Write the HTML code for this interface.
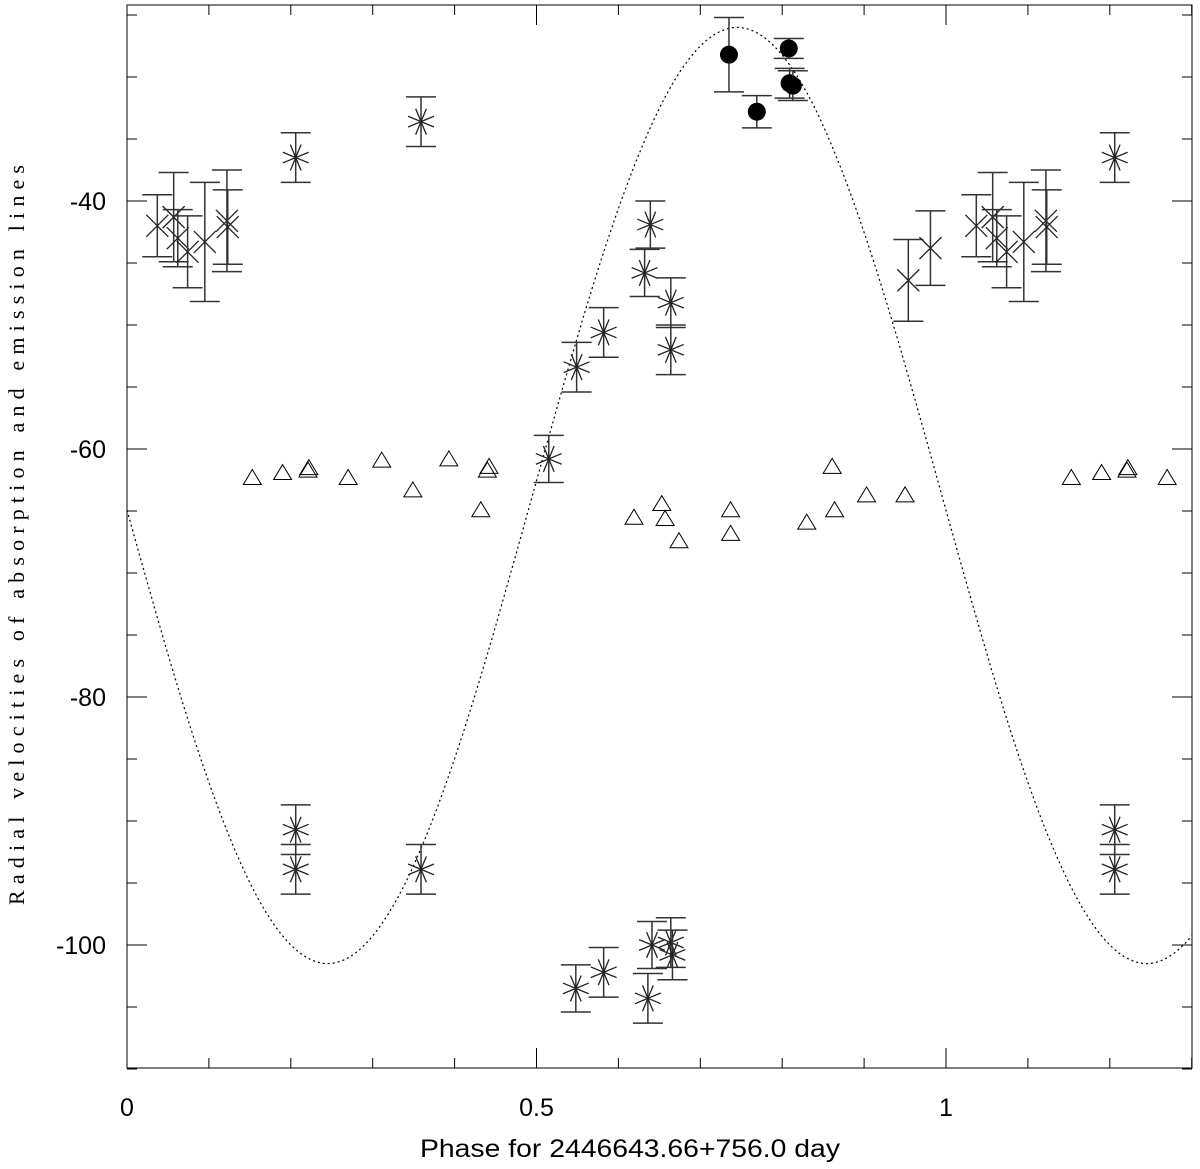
<!DOCTYPE html>
<html><head><meta charset="utf-8"><style>
html,body{margin:0;padding:0;background:#fff;width:1200px;height:1169px;overflow:hidden}
svg text{font-family:"Liberation Sans",sans-serif}
</style></head><body>
<svg id="chart" width="1200" height="1169" xmlns="http://www.w3.org/2000/svg">
<rect x="127" y="5" width="1065" height="1063" fill="none" stroke="#000" stroke-width="1"/>
<g id="ticks"></g>
<g id="curve"></g>
<g id="marks"></g>
<text x="630" y="1157" font-size="25" text-anchor="middle" textLength="420" lengthAdjust="spacingAndGlyphs">Phase for 2446643.66+756.0 day</text>
<text transform="translate(24,535) rotate(-90)" font-size="22" text-anchor="middle" textLength="740" lengthAdjust="spacing" style="font-family:'Liberation Serif',serif">Radial velocities of absorption and emission lines</text>
</svg>
<script>
const xTicks=[0,0.5,1];
const xTickLabels=["0","0.5","1"];
const yTicks=[-40,-60,-80,-100];
const yTickLabels=["-40","-60","-80","-100"];
// filled circles: phase, velocity, error
const circX=[0.735,0.769,0.808,0.809,0.813];
const circY=[-28.2,-32.8,-27.7,-30.5,-30.7];
const circE=[3.0,1.3,0.8,1.2,1.2];
// asterisks
const starX=[0.206,0.359,0.549,0.582,0.639,0.632,0.664,0.664,0.515,0.206,0.206,0.359,0.548,0.582,0.636,0.641,0.664,0.666,1.206,1.206,1.206];
const starY=[-36.5,-33.6,-53.4,-50.6,-41.9,-45.8,-48.2,-52.0,-60.8,-90.7,-93.9,-93.9,-103.5,-102.2,-104.3,-100.0,-99.8,-100.8,-36.5,-90.7,-93.9];
const starE=[2.0,2.0,2.0,2.0,1.9,1.9,2.0,2.0,1.9,2.0,2.0,2.0,1.9,2.0,2.0,1.9,2.0,2.0,2.0,2.0,2.0];
// crosses
const crossX=[0.037,0.057,0.062,0.074,0.095,0.122,0.123,0.954,0.981,1.037,1.057,1.062,1.074,1.095,1.122,1.123];
const crossY=[-42.0,-41.3,-43.0,-44.1,-43.3,-41.6,-42.1,-46.4,-43.8,-42.0,-41.3,-43.0,-44.1,-43.3,-41.6,-42.1];
const crossE=[2.5,3.6,2.3,2.9,4.8,4.1,3.0,3.3,3.0,2.5,3.6,2.3,2.9,4.8,4.1,3.0];
// triangles
const triX=[0.153,0.190,0.221,0.222,0.270,0.311,0.349,0.393,0.432,0.440,0.442,0.619,0.653,0.657,0.674,0.737,0.737,0.830,0.861,0.864,0.903,0.950,1.153,1.190,1.221,1.222,1.270];
const triY=[-62.3,-61.9,-61.7,-61.5,-62.3,-60.9,-63.3,-60.8,-64.9,-61.7,-61.4,-65.5,-64.4,-65.6,-67.4,-64.9,-66.8,-65.9,-61.4,-64.9,-63.7,-63.7,-62.3,-61.9,-61.7,-61.5,-62.3];
// model curve parameters
const curveMean=[-63.75], curveAmp=[37.75], curvePeak=[0.745];

const NS="http://www.w3.org/2000/svg";
const X=v=>127+v*819;
const Y=v=>201-(v+40)*12.4;
function mk(tag,attrs,parent){const e=document.createElementNS(NS,tag);for(const k in attrs)e.setAttribute(k,attrs[k]);parent.appendChild(e);return e;}
const ticks=document.getElementById('ticks');
for(let i=0;i<=13;i++){const v=i/10;const major=(i%5===0);const L=major?20:10;const px=X(v);
 const t=mk('line',{x1:px,y1:1068,x2:px,y2:1068-L,stroke:'#000','stroke-width':1},ticks);
 
 const t2=mk('line',{x1:px,y1:5,x2:px,y2:5+L,stroke:'#000','stroke-width':1},ticks);
 }
xTicks.forEach((v,i)=>{const t=mk('text',{x:X(v),y:1116,'font-size':25,'text-anchor':'middle'},ticks);t.textContent=xTickLabels[i];
 });
for(let v=-110;v<=-25;v+=5){const major=(v%20===0);const L=major?20:10;const py=Y(v);
 const t=mk('line',{x1:127,y1:py,x2:127+L,y2:py,stroke:'#000','stroke-width':1},ticks);
 
 const t2=mk('line',{x1:1192,y1:py,x2:1192-L,y2:py,stroke:'#000','stroke-width':1},ticks);
 }
yTicks.forEach((v,i)=>{const t=mk('text',{x:106,y:Y(v)+9,'font-size':25,'text-anchor':'end'},ticks);t.textContent=yTickLabels[i];
 });
let d='';for(let i=0;i<=260;i++){const p=i*1.3/260;const v=curveMean[0]+curveAmp[0]*Math.cos(2*Math.PI*(p-curvePeak[0]));d+=(i?'L':'M')+X(p).toFixed(1)+','+Y(v).toFixed(1);}
const c=mk('path',{d:d,fill:'none',stroke:'#000','stroke-width':1.2,'stroke-dasharray':'2,3'},document.getElementById('curve'));

const marks=document.getElementById('marks');
function err(x,y,e){const px=X(x),y1=Y(y+e),y2=Y(y-e);
 const g=mk('g',{stroke:'#333','stroke-width':1.5,fill:'none'},marks);
 
 mk('line',{x1:px,y1:y1,x2:px,y2:y2},g);mk('line',{x1:px-15,y1:y1,x2:px+15,y2:y1},g);mk('line',{x1:px-15,y1:y2,x2:px+15,y2:y2},g);}
circX.forEach((x,i)=>{err(x,circY[i],circE[i]);const e=mk('circle',{cx:X(x),cy:Y(circY[i]),r:9,fill:'#000'},marks);
 });
starX.forEach((x,i)=>{err(x,starY[i],starE[i]);const g=mk('g',{stroke:'#222','stroke-width':1.3},marks);
 
 const cx=X(x),cy=Y(starY[i]);for(let k=0;k<4;k++){const a=k*Math.PI/4+Math.PI/8;const dx=14*Math.cos(a),dy=14*Math.sin(a);mk('line',{x1:cx-dx,y1:cy-dy,x2:cx+dx,y2:cy+dy},g);}});
crossX.forEach((x,i)=>{err(x,crossY[i],crossE[i]);const g=mk('g',{stroke:'#222','stroke-width':1.3},marks);
 
 const cx=X(x),cy=Y(crossY[i]);mk('line',{x1:cx-11,y1:cy-11,x2:cx+11,y2:cy+11},g);mk('line',{x1:cx-11,y1:cy+11,x2:cx+11,y2:cy-11},g);});
triX.forEach((x,i)=>{const cx=X(x),cy=Y(triY[i]);const t=mk('polygon',{points:`${cx},${cy-8} ${cx-9},${cy+7} ${cx+9},${cy+7}`,fill:'none',stroke:'#000','stroke-width':1},marks);
 });
</script>
</body></html>
